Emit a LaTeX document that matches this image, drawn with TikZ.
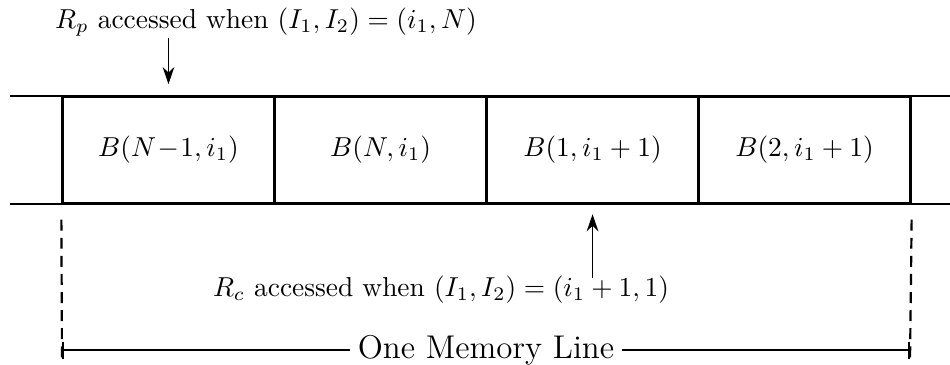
\documentclass[tikz,border=0pt]{standalone}
\usetikzlibrary{arrows.meta}
\begin{document}
\begin{tikzpicture}[
  cell/.style={draw, thick, minimum width=2.718cm, minimum height=1.359cm, inner sep=0pt},
  label/.style={inner sep=1pt},
  pointer/.style={-{Stealth[length=2.2mm,width=1.5mm]}, semithick},
  guide/.style={thick, dash pattern=on 4pt off 2.6pt}
]
  \useasboundingbox (0,0) rectangle (12.18,4.667);

  \node[cell] (prev) at (2.16,2.744) {$B(N\!-\!1,i_1)$};
  \node[cell] (last) at (4.88,2.744) {$B(N,i_1)$};
  \node[cell] (first) at (7.597,2.744) {$B(1,i_1+1)$};
  \node[cell] (second) at (10.315,2.744) {$B(2,i_1+1)$};

  % the long top and bottom edges of the line of blocks
  \draw[thick] (0.128,0 |- prev.north) -- (12.18,0 |- prev.north);
  \draw[thick] (0.128,0 |- prev.south) -- (12.18,0 |- prev.south);

  \node[label] (rp) at (3.41,4.385) {$R_p$ accessed when $(I_1,I_2)=(i_1,N)$};
  \node[label] (rc) at (5.654,0.949) {$R_c$ accessed when $(I_1,I_2)=(i_1+1,1)$};

  \coordinate (ptop) at (2.16,4.18);
  \coordinate (cbot) at (7.597,1.1);
  \draw[pointer] (ptop) -- ([yshift=1.5mm]prev.north);
  \draw[pointer] (cbot) -- ([yshift=-1.3mm]first.south);

  \coordinate (lfoot) at (0.795,0);
  \coordinate (rfoot) at (11.667,0);
  \draw[guide] ([yshift=-2mm]prev.south west) -- (lfoot);
  \draw[guide] ([yshift=-2mm]second.south east) -- (rfoot);

  \coordinate (lend) at (0.795,0.179);
  \coordinate (rend) at (11.667,0.179);
  \draw[thick, |-|] (lend) -- node[fill=white, inner sep=3pt, font=\large] (span) {One Memory Line} (rend);
\end{tikzpicture}
\end{document}
